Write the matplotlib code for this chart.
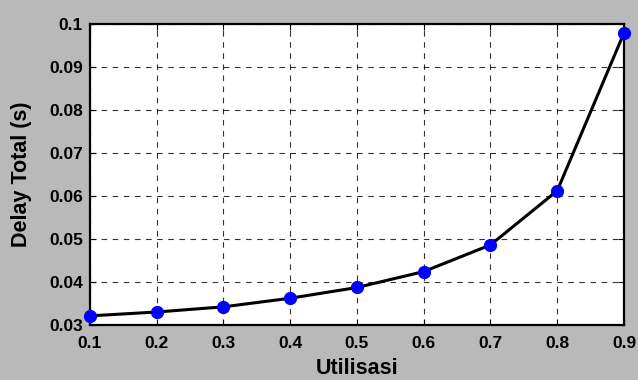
import matplotlib
matplotlib.use("Agg")
import matplotlib.pyplot as plt

utilisasi = [0.1, 0.2, 0.3, 0.4, 0.5, 0.6, 0.7, 0.8, 0.9]
delay_total = [0.0321, 0.0330, 0.0342, 0.0362, 0.0387, 0.0424, 0.0486, 0.0612, 0.0979]

x_ticks = [0.1, 0.2, 0.3, 0.4, 0.5, 0.6, 0.7, 0.8, 0.9]
x_tick_labels = ["0.1", "0.2", "0.3", "0.4", "0.5", "0.6", "0.7", "0.8", "0.9"]
y_ticks = [0.03, 0.04, 0.05, 0.06, 0.07, 0.08, 0.09, 0.1]
y_tick_labels = ["0.03", "0.04", "0.05", "0.06", "0.07", "0.08", "0.09", "0.1"]

plt.rcParams["font.family"] = ["Liberation Sans", "DejaVu Sans"]
plt.rcParams["font.weight"] = "bold"

fig = plt.figure(figsize=(6.38, 3.8), dpi=100, facecolor="#b9b9b9")
ax = fig.add_axes([0.141, 0.145, 0.837, 0.792])
ax.set_facecolor("white")

ax.plot(utilisasi, delay_total, color="black", linewidth=2.2, zorder=3)
ax.plot(utilisasi, delay_total, linestyle="none", marker="o", markersize=8.5,
        markerfacecolor="blue", markeredgecolor="blue", zorder=4, clip_on=False)

ax.set_xlim(0.1, 0.9)
ax.set_ylim(0.03, 0.1)
ax.set_xticks(x_ticks)
ax.set_xticklabels(x_tick_labels)
ax.set_yticks(y_ticks)
ax.set_yticklabels(y_tick_labels)

ax.grid(True, color="black", linestyle=(0, (5, 5)), linewidth=0.8, alpha=0.8)
ax.tick_params(direction="in", top=True, right=True, length=4, width=0.8,
               labelsize=12.5)
ax.tick_params(axis="x", pad=8)
ax.tick_params(axis="y", pad=5)
for lbl in ax.get_xticklabels() + ax.get_yticklabels():
    lbl.set_fontweight("bold")
for sp in ax.spines.values():
    sp.set_linewidth(1.6)
    sp.set_color("black")

ax.set_xlabel("Utilisasi", fontsize=15.5, fontweight="bold", labelpad=5)
ax.set_ylabel("Delay Total (s)", fontsize=15.5, fontweight="bold", labelpad=12)

fig.savefig("out.png", dpi=100, facecolor=fig.get_facecolor())
